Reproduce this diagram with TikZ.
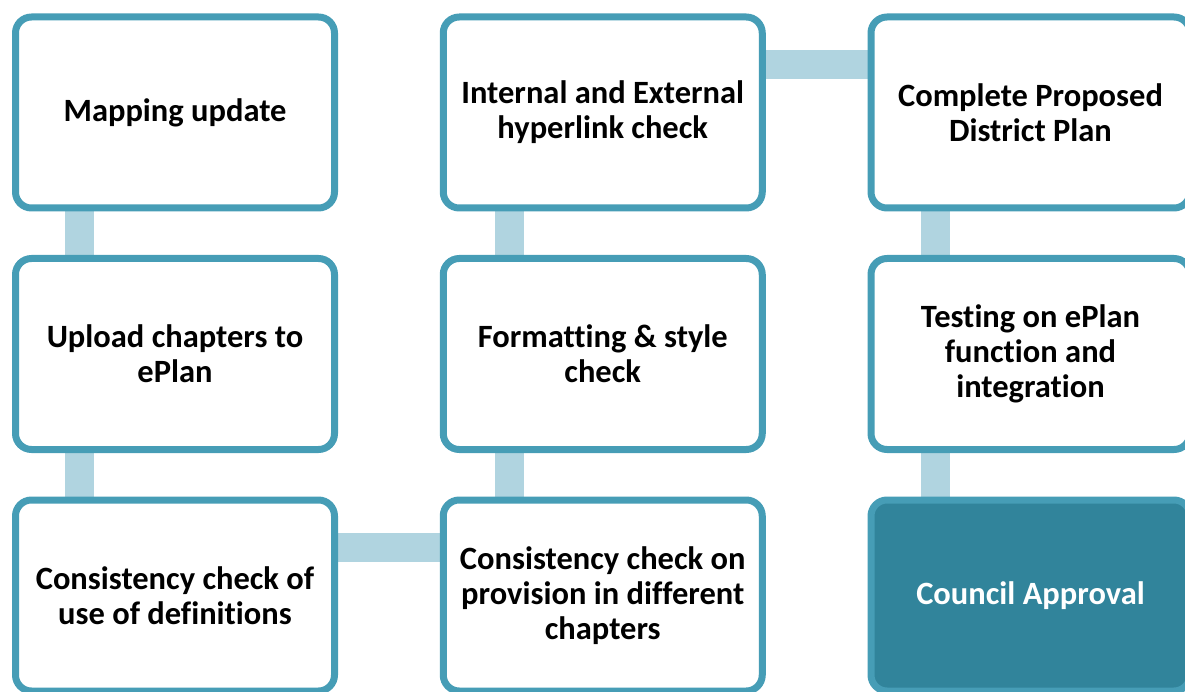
\documentclass[tikz,border=0pt]{standalone}
\usepackage{fontspec}
\setmainfont{Carlito}[Ligatures=NoCommon]
\usetikzlibrary{backgrounds,shadows}

\definecolor{stageborder}{HTML}{469DB6}
\definecolor{approvalfill}{HTML}{31849B}
\definecolor{linkblue}{HTML}{B0D4E0}

\begin{document}
\begin{tikzpicture}[x=1pt, y=-1pt, node distance=241.5pt,
    stage/.style={draw=stageborder, line width=7pt, rounded corners=16pt, fill=white,
      minimum width=319pt, minimum height=191pt, align=center,
      font=\fontsize{32.5}{35}\selectfont\bfseries,
      drop shadow={shadow xshift=1.5pt, shadow yshift=-2.5pt, opacity=0.25, fill=black}},
    final/.style={stage, fill=approvalfill, text=white},
    link/.style={draw=linkblue, line width=29pt}]

    \useasboundingbox (0,0) rectangle (1185,692);

    % First column
    \node (map) [stage] at (175,112.5) {Mapping update};
    \node (upload) [stage, below of=map] {Upload chapters to\\ePlan};
    \node (defs) [stage, below of=upload] {Consistency check of\\use of definitions};

    % Second column
    \node (provision) [stage, right of=defs, node distance=427.75pt] {Consistency check on\\provision in different\\chapters};
    \node (format) [stage, above of=provision] {Formatting \& style\\check};
    \node (hyper) [stage, above of=format] {Internal and External\\hyperlink check};

    % Third column
    \node (complete) [stage, right of=hyper, node distance=427.75pt] {Complete Proposed\\District Plan};
    \node (testing) [stage, below of=complete] {Testing on ePlan\\function and\\integration};
    \node (council) [final, below of=testing] {Council Approval};

    % Links
    \begin{scope}[on background layer]
        \draw[link] ([xshift=67pt]map.south west) -- ([xshift=67pt]upload.north west);
        \draw[link] ([xshift=67pt]upload.south west) -- ([xshift=67pt]defs.north west);
        \draw[link] ([yshift=-50.5pt]defs.north east) -- ([yshift=-50.5pt]provision.north west);
        \draw[link] ([xshift=70pt]provision.north west) -- ([xshift=70pt]format.south west);
        \draw[link] ([xshift=70pt]format.north west) -- ([xshift=70pt]hyper.south west);
        \draw[link] ([yshift=-51pt]hyper.north east) -- ([yshift=-51pt]complete.north west);
        \draw[link] ([xshift=67.5pt]complete.south west) -- ([xshift=67.5pt]testing.north west);
        \draw[link] ([xshift=67.5pt]testing.south west) -- ([xshift=67.5pt]council.north west);
    \end{scope}

\end{tikzpicture}
\end{document}
